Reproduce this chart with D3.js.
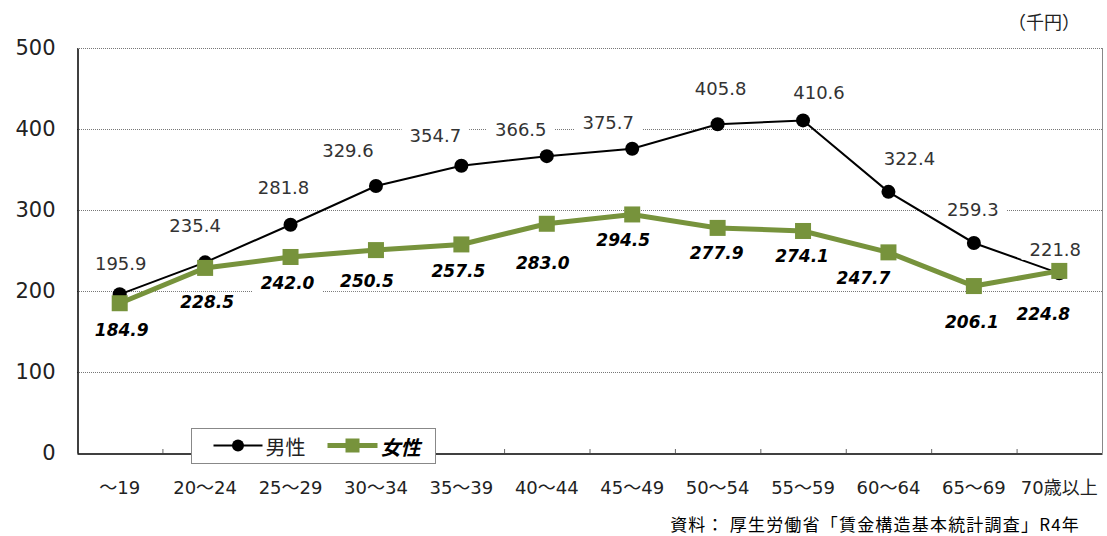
<!DOCTYPE html>
<html>
<head>
<meta charset="utf-8">
<script src="https://cdn.jsdelivr.net/npm/d3@7"></script>
<style>
  body { margin: 0; background: #fff; }
  text { font-family: "DejaVu Sans", "Noto Sans CJK JP", sans-serif; }
</style>
</head>
<body>
<script>
// age groups and monthly wages (thousand yen)
const ageGroups = ["～19", "20～24", "25～29", "30～34", "35～39", "40～44", "45～49", "50～54", "55～59", "60～64", "65～69", "70歳以上"];
const maleWage = [195.9, 235.4, 281.8, 329.6, 354.7, 366.5, 375.7, 405.8, 410.6, 322.4, 259.3, 221.8];
const femaleWage = [184.9, 228.5, 242.0, 250.5, 257.5, 283.0, 294.5, 277.9, 274.1, 247.7, 206.1, 224.8];
const yTicks = [0, 100, 200, 300, 400, 500];

// hand nudges for the data labels, as in the original
const maleNudgeX = [1, -10, -7, -28, -26, -26, -24, 3, 16, 21, -1, -4];
const maleNudgeY = [-31, -37, -37, -36, -30, -27, -26, -36, -28, -33, -33, -24];
const femaleNudgeX = [2, 2, -3, -9, -3, -4, -9, -1, -1, -25, -2, -16];
const femaleNudgeY = [27, 34, 26, 31, 27, 39, 26, 25, 25, 26, 36, 43];

const numFont = '"DejaVu Sans", "Noto Sans CJK JP", sans-serif';
const jpFont = '"Noto Sans CJK JP", sans-serif';

window.onload = function() {
  const width = 1107, height = 536;
  const margin = {left: 77, right: 5, top: 48, bottom: 83};

  const svg = d3.select('body').append('svg')
    .attr('width', width)
    .attr('height', height);

  const x = d3.scaleBand()
    .domain(ageGroups)
    .range([margin.left, width - margin.right]);

  const y = d3.scaleLinear()
    .domain([0, 500])
    .range([height - margin.bottom, margin.top]);

  const cx = (d, i) => x(ageGroups[i]) + x.bandwidth() / 2;

  // gridlines
  svg.append('g')
    .selectAll('line')
    .data(yTicks.filter(t => t > 0))
    .enter()
    .append('line')
      .attr('x1', margin.left)
      .attr('x2', width - margin.right)
      .attr('y1', d => y(d) + 0.5)
      .attr('y2', d => y(d) + 0.5)
      .attr('stroke', '#777')
      .attr('stroke-width', 1)
      .attr('stroke-dasharray', '1,1');

  // right border
  svg.append('line')
    .attr('x1', width - margin.right + 0.5)
    .attr('x2', width - margin.right + 0.5)
    .attr('y1', y(500))
    .attr('y2', y(0))
    .attr('stroke', '#888');

  // y axis
  const yAxis = d3.axisLeft(y).tickValues(yTicks).tickSize(0).tickPadding(22);
  const gy = svg.append('g')
    .attr('transform', 'translate(' + (margin.left + 0.5) + ',0)')
    .call(yAxis);
  gy.select('.domain').attr('stroke', '#000').attr('stroke-width', 1.5);
  gy.selectAll('text')
    .style('font-size', '21px')
    .style('font-family', numFont)
    .attr('fill', '#222');

  // x axis
  const xAxis = d3.axisBottom(x).tickSize(0).tickPadding(28);
  const gx = svg.append('g')
    .attr('transform', 'translate(0,' + (y(0) + 0.5) + ')')
    .call(xAxis);
  gx.select('.domain').attr('stroke', '#000').attr('stroke-width', 1.5);
  gx.selectAll('text')
    .style('font-size', '18px')
    .style('font-family', numFont)
    .attr('fill', '#222');

  // small ticks between categories
  svg.append('g')
    .selectAll('line')
    .data(ageGroups.slice(1))
    .enter()
    .append('line')
      .attr('x1', d => x(d) + 0.5)
      .attr('x2', d => x(d) + 0.5)
      .attr('y1', y(0))
      .attr('y2', y(0) - 4)
      .attr('stroke', '#666');

  const line = d3.line()
    .x(cx)
    .y(d => y(d));

  // male series
  svg.append('path')
    .datum(maleWage)
    .attr('fill', 'none')
    .attr('stroke', '#000')
    .attr('stroke-width', 2)
    .attr('d', line);

  svg.append('g')
    .selectAll('circle')
    .data(maleWage)
    .enter()
    .append('circle')
      .attr('cx', cx)
      .attr('cy', d => y(d))
      .attr('r', 7)
      .attr('fill', '#000');

  // female series
  svg.append('path')
    .datum(femaleWage)
    .attr('fill', 'none')
    .attr('stroke', '#77933C')
    .attr('stroke-width', 5)
    .attr('d', line);

  svg.append('g')
    .selectAll('rect')
    .data(femaleWage)
    .enter()
    .append('rect')
      .attr('x', (d, i) => cx(d, i) - 8)
      .attr('y', d => y(d) - 8)
      .attr('width', 16)
      .attr('height', 16)
      .attr('fill', '#77933C');

  // data labels with white boxes
  function addLabels(values, nudgeX, nudgeY, bold) {
    const g = svg.append('g');
    values.forEach((v, i) => {
      const lx = cx(v, i) + nudgeX[i];
      const ly = y(v) + nudgeY[i];
      const lab = g.append('g');
      const t = lab.append('text')
        .attr('x', lx)
        .attr('y', ly)
        .attr('text-anchor', 'middle')
        .attr('dominant-baseline', 'central')
        .style('font-size', bold ? '17px' : '18px')
        .style('font-style', bold ? 'italic' : 'normal')
        .style('font-weight', bold ? 'bold' : 'normal')
        .style('font-family', numFont)
        .attr('fill', bold ? '#000' : '#333')
        .text(v.toFixed(1));
      const bb = t.node().getBBox();
      lab.insert('rect', 'text')
        .attr('x', bb.x - 8)
        .attr('y', bb.y)
        .attr('width', bb.width + 16)
        .attr('height', bb.height)
        .attr('fill', '#fff');
    });
  }
  addLabels(maleWage, maleNudgeX, maleNudgeY, false);
  addLabels(femaleWage, femaleNudgeX, femaleNudgeY, true);

  // legend
  const lg = svg.append('g').attr('transform', 'translate(191.5,428.5)');
  lg.append('rect')
    .attr('width', 244)
    .attr('height', 35)
    .attr('fill', '#fff')
    .attr('stroke', '#888');
  lg.append('line')
    .attr('x1', 22).attr('x2', 71).attr('y1', 17).attr('y2', 17)
    .attr('stroke', '#000').attr('stroke-width', 2);
  lg.append('circle')
    .attr('cx', 46.5).attr('cy', 17).attr('r', 6).attr('fill', '#000');
  lg.append('text')
    .attr('x', 74).attr('y', 18)
    .attr('dominant-baseline', 'central')
    .style('font-size', '20px')
    .style('font-family', jpFont)
    .attr('fill', '#222')
    .text('男性');
  lg.append('line')
    .attr('x1', 136).attr('x2', 186).attr('y1', 17).attr('y2', 17)
    .attr('stroke', '#77933C').attr('stroke-width', 5);
  lg.append('rect')
    .attr('x', 154).attr('y', 10).attr('width', 14).attr('height', 14)
    .attr('fill', '#77933C');
  lg.append('text')
    .attr('x', 189).attr('y', 18)
    .attr('dominant-baseline', 'central')
    .style('font-size', '20px')
    .style('font-family', jpFont)
    .style('font-weight', 'bold')
    .style('font-style', 'italic')
    .attr('fill', '#000')
    .text('女性');

  // unit
  svg.append('text')
    .attr('x', 1080)
    .attr('y', 21)
    .attr('text-anchor', 'end')
    .attr('dominant-baseline', 'central')
    .style('font-size', '18px')
    .style('font-family', jpFont)
    .attr('fill', '#222')
    .text('（千円）');

  // source
  svg.append('text')
    .attr('x', 1080)
    .attr('y', 523)
    .attr('text-anchor', 'end')
    .attr('dominant-baseline', 'central')
    .style('font-size', '17px')
    .style('font-family', jpFont)
    .style('letter-spacing', '1.2px')
    .attr('fill', '#000')
    .text('資料：  厚生労働省「賃金構造基本統計調査」R4年');
};
</script>
</body>
</html>
